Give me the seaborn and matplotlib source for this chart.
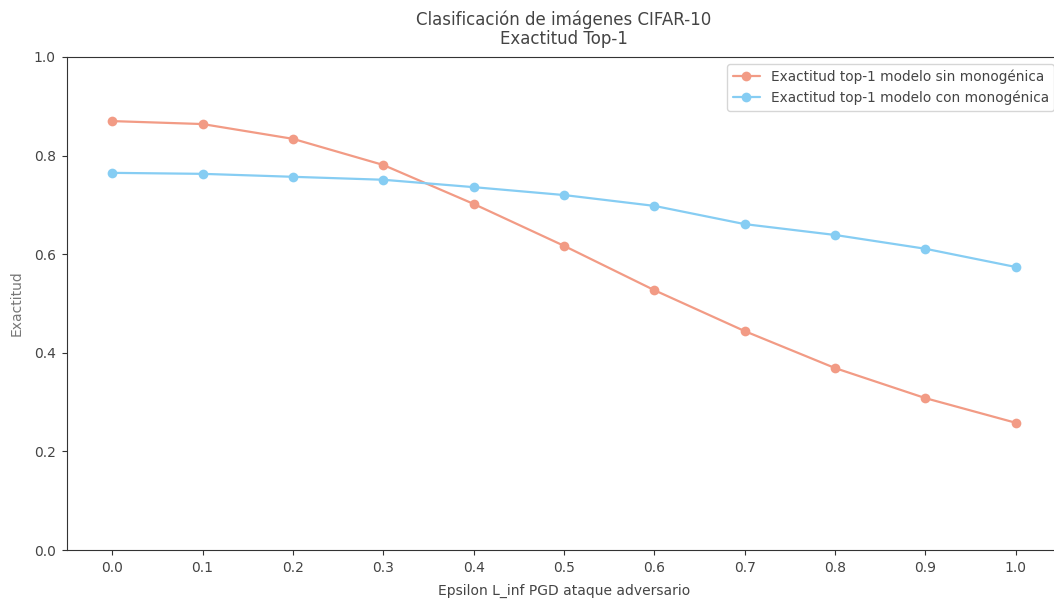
import matplotlib
matplotlib.use("Agg")
import matplotlib.pyplot as plt
import seaborn as sns
import pandas as pd

epsilon = [0.0, 0.1, 0.2, 0.3, 0.4, 0.5, 0.6, 0.7, 0.8, 0.9, 1.0]
acc_sin = [0.870, 0.864, 0.834, 0.781, 0.702, 0.617, 0.527, 0.444, 0.369, 0.308, 0.258]
acc_con = [0.765, 0.763, 0.757, 0.751, 0.736, 0.720, 0.698, 0.661, 0.639, 0.611, 0.574]
label_sin = "Exactitud top-1 modelo sin monogénica"
label_con = "Exactitud top-1 modelo con monogénica"
xticks = epsilon
yticks = [0.0, 0.2, 0.4, 0.6, 0.8, 1.0]

sns.set_style("ticks")
plt.rcParams['font.family'] = ['DejaVu Sans']
text_color = "#444444"

df = pd.DataFrame({
    "epsilon": epsilon * 2,
    "acc": acc_sin + acc_con,
    "modelo": [label_sin] * len(epsilon) + [label_con] * len(epsilon),
})

fig = plt.figure(figsize=(10.54, 6.01), dpi=100)
ax = fig.add_axes([67 / 1054, 51 / 601, 994 / 1054, 493 / 601])

sns.lineplot(data=df, x="epsilon", y="acc", hue="modelo",
             palette={label_sin: "#F29B85", label_con: "#86CDF3"},
             marker="o", markersize=7, markeredgewidth=0, linewidth=1.6,
             ax=ax)

ax.set_ylim(0, 1.0)
ax.set_xticks(xticks)
ax.set_xticklabels([f"{v:.1f}" for v in xticks])
ax.set_yticks(yticks)
ax.set_yticklabels([f"{v:.1f}" for v in yticks])
ax.tick_params(labelsize=10, colors="#333333", labelcolor=text_color, pad=4.5)
for s in ax.spines.values():
    s.set_color("#333333")

ax.set_xlabel("Epsilon L_inf PGD ataque adversario", fontsize=10, color=text_color, labelpad=6)
ax.set_ylabel("Exactitud", fontsize=10, color="#777777", labelpad=7.5)
ax.set_title("Clasificación de imágenes CIFAR-10\nExactitud Top-1", fontsize=12,
             color=text_color, pad=9, linespacing=1.1)

leg = ax.legend(loc="upper right", fontsize=9.8, frameon=True)
for t in leg.get_texts():
    t.set_color(text_color)

fig.savefig("out.png", dpi=100)
